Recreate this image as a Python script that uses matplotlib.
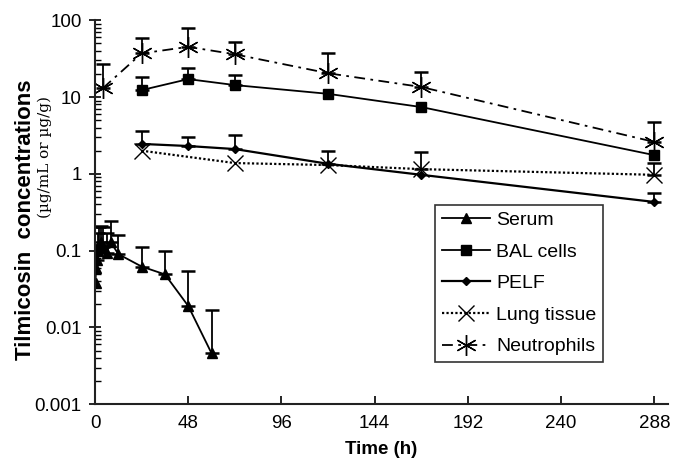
import numpy as np
import matplotlib
matplotlib.use("Agg")
import matplotlib.pyplot as plt

plt.rcParams['font.family'] = ['Liberation Sans', 'DejaVu Sans']

# time points (h) and mean values, upper error-bar ends (None = no bar)
serum_t = [0.25, 0.5, 1, 1.5, 2, 3, 4, 6, 8, 12, 24, 36, 48, 60]
serum_y = [0.038, 0.06, 0.075, 0.10, 0.12, 0.13, 0.11, 0.093, 0.13, 0.09, 0.062, 0.049, 0.019, 0.0046]
serum_hi = [None, None, 0.12, 0.17, 0.2, 0.21, 0.2, 0.17, 0.24, 0.16, 0.11, 0.098, 0.054, 0.017]

bal_t = [24, 48, 72, 120, 168, 288]
bal_y = [12.3, 17.1, 14.3, 11.0, 7.4, 1.75]
bal_hi = [18, 23.8, 19.3, None, None, None]

pelf_t = [24, 48, 72, 120, 168, 288]
pelf_y = [2.45, 2.3, 2.1, 1.35, 0.97, 0.43]
pelf_hi = [3.6, 3.0, 3.2, 2.0, None, 0.57]

lung_t = [24, 72, 120, 168, 288]
lung_y = [2.0, 1.38, 1.3, 1.15, 0.97]
lung_hi = [None, None, None, 1.93, 1.38]

neut_t = [4, 24, 48, 72, 120, 168, 288]
neut_y = [13, 37, 45, 36, 20.4, 13.5, 2.6]
neut_hi = [27, 58, 79, 52, 37, 21, 4.7]

fig = plt.figure(figsize=(6.74, 4.70), dpi=100)
ax = fig.add_axes([0.141, 0.140, 0.850, 0.817])


def draw(t, y, hi, **kw):
    ax.plot(t, y, color='black', **kw)
    tt = [a for a, h in zip(t, hi) if h is not None]
    yy = [b for b, h in zip(y, hi) if h is not None]
    up = [h - b for b, h in zip(y, hi) if h is not None]
    ax.errorbar(tt, yy, yerr=[np.zeros(len(up)), up], fmt='none',
                ecolor='black', elinewidth=1.3, capsize=5, capthick=1.8)


draw(serum_t, serum_y, serum_hi, lw=1.3, marker='^', ms=7, label='Serum')
draw(bal_t, bal_y, bal_hi, lw=1.3, marker='s', ms=7.5, label='BAL cells')
draw(pelf_t, pelf_y, pelf_hi, lw=1.6, marker='D', ms=4.5, label='PELF')
draw(lung_t, lung_y, lung_hi, lw=1.6, ls=(0, (1, 1)), marker='x', ms=11, mew=1.0,
     label='Lung tissue')
draw(neut_t, neut_y, neut_hi, lw=1.3, ls=(0, (6, 3, 1.5, 3)), marker=(6, 2, 0), ms=15,
     mew=1.0, label='Neutrophils')

ax.set_yscale('log')
ax.set_ylim(0.001, 100)
ax.set_xlim(0, 295)
ax.set_xticks([0, 48, 96, 144, 192, 240, 288])
ax.spines['top'].set_visible(False)
ax.spines['right'].set_visible(False)
for s in ['left', 'bottom']:
    ax.spines[s].set_linewidth(1.5)
    ax.spines[s].set_color('#222222')
ax.tick_params(axis='x', direction='in', length=6, width=1.2, labelsize=13.5, pad=8)
ax.tick_params(axis='y', which='major', direction='inout', length=9, width=1.2,
               labelsize=13.5, pad=5)
ax.tick_params(axis='y', which='minor', direction='in', length=4, width=1)
ax.set_yticks([0.001, 0.01, 0.1, 1, 10, 100])
ax.set_yticklabels(['0.001', '0.01', '0.1', '1', '10', '100'])

ax.set_xlabel('Time (h)', fontsize=13.5, fontweight='bold', labelpad=6)
fig.text(0.038, 0.532, 'Tilmicosin  concentrations', rotation=90, fontsize=16,
         fontweight='bold', ha='center', va='center')
fig.text(0.067, 0.665, '(µg/mL or µg/g)', rotation=90, fontsize=11,
         family='DejaVu Serif', ha='center', va='center')

leg = ax.legend(loc='upper left', bbox_to_anchor=(0.593, 0.52), fontsize=14,
                handlelength=2.5, handletextpad=0.3, labelspacing=0.72,
                borderpad=0.35, fancybox=False, framealpha=1, borderaxespad=0)
leg.get_frame().set_edgecolor('#333333')
leg.get_frame().set_linewidth(1.2)

fig.savefig('out.png', dpi=100)
